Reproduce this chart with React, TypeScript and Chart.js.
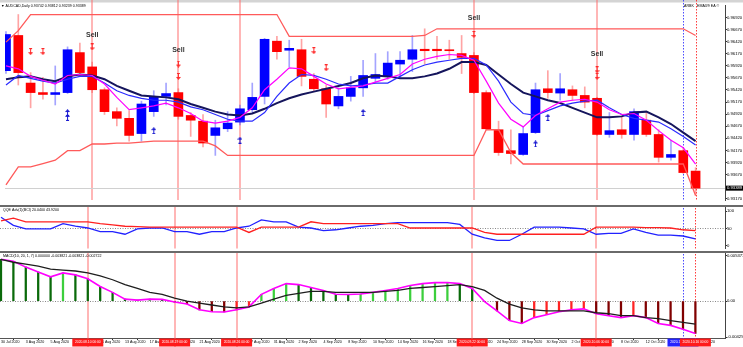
import React, { useEffect, useRef } from "react";
import { Chart, registerables } from "chart.js";

Chart.register(...registerables);

const FONT = "'Liberation Sans', Arial, Helvetica, sans-serif";
const WIDTH = 743;
const PLOT_RIGHT = 725;
const BAR_SPACING = 12.4;
const X_MIN = -0.08;
const X_MAX = X_MIN + PLOT_RIGHT / BAR_SPACING;

const dates = [
  "30 Jul 2020", "31 Jul 2020", "3 Aug 2020", "4 Aug 2020", "5 Aug 2020", "6 Aug 2020", "7 Aug 2020", "10 Aug 2020", "11 Aug 2020", "12 Aug 2020",
  "13 Aug 2020", "14 Aug 2020", "17 Aug 2020", "18 Aug 2020", "19 Aug 2020", "20 Aug 2020", "21 Aug 2020", "24 Aug 2020", "25 Aug 2020", "26 Aug 2020",
  "27 Aug 2020", "28 Aug 2020", "31 Aug 2020", "1 Sep 2020", "2 Sep 2020", "3 Sep 2020", "4 Sep 2020", "7 Sep 2020", "8 Sep 2020", "9 Sep 2020",
  "10 Sep 2020", "11 Sep 2020", "14 Sep 2020", "15 Sep 2020", "16 Sep 2020", "17 Sep 2020", "18 Sep 2020", "21 Sep 2020", "22 Sep 2020", "23 Sep 2020",
  "24 Sep 2020", "25 Sep 2020", "28 Sep 2020", "29 Sep 2020", "30 Sep 2020", "1 Oct 2020", "2 Oct 2020", "5 Oct 2020", "6 Oct 2020", "7 Oct 2020",
  "8 Oct 2020", "9 Oct 2020", "12 Oct 2020", "13 Oct 2020", "14 Oct 2020", "15 Oct 2020", "16 Oct 2020",
];

const open = [
  0.95818, 0.96546, 0.95562, 0.95365, 0.95326, 0.95365, 0.96192, 0.95896, 0.95424, 0.94971,
  0.94833, 0.94518, 0.94971, 0.95286, 0.95365, 0.94892, 0.94774, 0.94479, 0.94617, 0.94755,
  0.95011, 0.95286, 0.96428, 0.96241, 0.96251, 0.95641, 0.95444, 0.95089, 0.95286, 0.95463,
  0.9566, 0.957, 0.95955, 0.96054, 0.96261, 0.96261, 0.96251, 0.96172, 0.96133, 0.95365,
  0.94597, 0.94164, 0.94085, 0.94538, 0.95444, 0.95355, 0.95424, 0.95306, 0.95247, 0.94499,
  0.94597, 0.94499, 0.94794, 0.94499, 0.94026, 0.94164, 0.93742,
];
const high = [
  0.96625, 0.96979, 0.95778, 0.9568, 0.95916, 0.9631, 0.96389, 0.95995, 0.95463, 0.9505,
  0.94991, 0.95188, 0.95404, 0.95562, 0.95444, 0.94952, 0.94912, 0.94794, 0.94971, 0.95109,
  0.95562, 0.96487, 0.96526, 0.96448, 0.96467, 0.95759, 0.95522, 0.95463, 0.957, 0.96034,
  0.96172, 0.96211, 0.96211, 0.96546, 0.96684, 0.96526, 0.96448, 0.96546, 0.96192, 0.95404,
  0.94774, 0.94597, 0.94656, 0.95562, 0.95818, 0.95759, 0.95503, 0.95483, 0.95266, 0.94952,
  0.94853, 0.9503, 0.94952, 0.94597, 0.94381, 0.94223, 0.93812,
];
const low = [
  0.95759, 0.95522, 0.9505, 0.95227, 0.95109, 0.95345, 0.957, 0.95365, 0.94912, 0.94676,
  0.94361, 0.94361, 0.94873, 0.95109, 0.94814, 0.94459, 0.94243, 0.94066, 0.94558, 0.94696,
  0.94952, 0.95129, 0.96054, 0.95896, 0.95503, 0.95404, 0.94853, 0.9503, 0.95188, 0.95286,
  0.95562, 0.95641, 0.9568, 0.95798, 0.95955, 0.96054, 0.96054, 0.95759, 0.95345, 0.94597,
  0.94066, 0.93888, 0.94066, 0.94518, 0.95247, 0.95207, 0.95207, 0.9505, 0.94479, 0.9444,
  0.9442, 0.94381, 0.94459, 0.93928, 0.93967, 0.93692, 0.93239,
];
const close = [
  0.96566, 0.95778, 0.95365, 0.95326, 0.95365, 0.96251, 0.95778, 0.95424, 0.94971, 0.94833,
  0.94479, 0.95129, 0.95286, 0.95345, 0.94873, 0.94794, 0.94322, 0.94637, 0.94735, 0.9503,
  0.95266, 0.96467, 0.96211, 0.9628, 0.957, 0.95444, 0.95129, 0.95286, 0.95463, 0.95719,
  0.95739, 0.95975, 0.96034, 0.96251, 0.96231, 0.96231, 0.96231, 0.96093, 0.95365, 0.94617,
  0.94125, 0.94105, 0.94518, 0.95424, 0.95365, 0.95444, 0.95306, 0.95168, 0.94499, 0.94578,
  0.94499, 0.94971, 0.94499, 0.94026, 0.94085, 0.93711, 0.93389,
];

const emaFast = [
  0.95916, 0.95857, 0.957, 0.95621, 0.95542, 0.95719, 0.95739, 0.95719, 0.95542, 0.95266,
  0.95011, 0.9505, 0.95089, 0.95148, 0.9505, 0.94932, 0.94774, 0.94735, 0.94774, 0.94853,
  0.9505, 0.95424, 0.95641, 0.95877, 0.95857, 0.957, 0.95542, 0.95444, 0.95473, 0.95503,
  0.95581, 0.9566, 0.95739, 0.95955, 0.96054, 0.96113, 0.96152, 0.96133, 0.96034, 0.95601,
  0.95148, 0.94814, 0.94656, 0.94892, 0.9503, 0.95168, 0.95207, 0.95227, 0.95168, 0.95011,
  0.94912, 0.94932, 0.94794, 0.94578, 0.94381, 0.94223, 0.93888,
];
const emaMid = [
  0.95522, 0.95719, 0.9566, 0.95601, 0.95562, 0.95641, 0.957, 0.957, 0.95562, 0.95404,
  0.95306, 0.95247, 0.95207, 0.95207, 0.95168, 0.9507, 0.95011, 0.94912, 0.94814, 0.94774,
  0.94774, 0.94952, 0.95286, 0.95562, 0.95739, 0.95719, 0.95641, 0.95542, 0.95503, 0.95522,
  0.95562, 0.95562, 0.957, 0.95837, 0.95936, 0.95995, 0.96034, 0.96074, 0.96074, 0.95936,
  0.95601, 0.95168, 0.94932, 0.94892, 0.94991, 0.95089, 0.95148, 0.95188, 0.95207, 0.9505,
  0.94912, 0.94833, 0.94794, 0.94755, 0.94617, 0.94459, 0.94282,
];
const emaSlow = [
  0.95641, 0.9568, 0.957, 0.95641, 0.95601, 0.957, 0.95739, 0.95719, 0.95641, 0.95503,
  0.95404, 0.95306, 0.95286, 0.95266, 0.95227, 0.95129, 0.9505, 0.94971, 0.94912, 0.94892,
  0.94932, 0.9503, 0.95148, 0.95247, 0.95326, 0.95385, 0.95444, 0.95503, 0.95562, 0.9566,
  0.95719, 0.957, 0.9566, 0.9566, 0.957, 0.95759, 0.95857, 0.95995, 0.95995, 0.95936,
  0.95739, 0.95542, 0.95365, 0.95286, 0.95207, 0.95148, 0.9505, 0.94952, 0.94853, 0.94853,
  0.94873, 0.94952, 0.94971, 0.94853, 0.94715, 0.94538, 0.94361,
];

const channelUpper = [
  0.96408, 0.96645, 0.96979, 0.96979, 0.96979, 0.96979, 0.96979, 0.96979, 0.96979, 0.96979,
  0.96979, 0.96979, 0.96979, 0.96979, 0.96979, 0.96979, 0.96979, 0.96979, 0.96979, 0.96979,
  0.96979, 0.96979, 0.96979, 0.96526, 0.96526, 0.96526, 0.96526, 0.96526, 0.96526, 0.96526,
  0.96526, 0.96526, 0.96526, 0.96526, 0.96546, 0.96684, 0.96684, 0.96684, 0.96684, 0.96684,
  0.96684, 0.96684, 0.96684, 0.96684, 0.96684, 0.96684, 0.96684, 0.96684, 0.96684, 0.96684,
  0.96684, 0.96684, 0.96684, 0.96684, 0.96684, 0.96684, 0.96546,
];
const channelLower = [
  0.93455, 0.93829, 0.93829, 0.93898, 0.93967, 0.94164, 0.94164, 0.94302, 0.94302, 0.94322,
  0.94322, 0.94341, 0.94361, 0.94361, 0.94361, 0.94361, 0.94361, 0.94262, 0.94066, 0.94066,
  0.94066, 0.94066, 0.94066, 0.94066, 0.94066, 0.94066, 0.94066, 0.94066, 0.94066, 0.94066,
  0.94066, 0.94066, 0.94066, 0.94066, 0.94066, 0.94066, 0.94066, 0.94066, 0.94066, 0.94597,
  0.94597, 0.94125, 0.93888, 0.93888, 0.93888, 0.93888, 0.93888, 0.93888, 0.93888, 0.93888,
  0.93888, 0.93888, 0.93888, 0.93888, 0.93888, 0.93888, 0.93239,
];

const sellArrowBars = [2, 3, 7, 14, 14, 25, 26, 38, 48, 48];
const sellArrowPrices = [0.96211, 0.96211, 0.9631, 0.95955, 0.957, 0.96231, 0.95877, 0.96566, 0.95837, 0.957];
const buyArrowBars = [5, 5, 12, 19, 29, 43, 44];
const buyArrowPrices = [0.94952, 0.94853, 0.94578, 0.94381, 0.94952, 0.94302, 0.94853];
const sellLabelBars = [7, 14, 38, 48];
const sellLabelPrices = [0.96546, 0.96251, 0.969, 0.96152];

const priceTicks = [
  0.9692, 0.9667, 0.9642, 0.9617, 0.9592, 0.9567, 0.9542, 0.9517,
  0.9492, 0.9467, 0.9442, 0.9417, 0.9392, 0.9367, 0.9317,
];

const qqeFast = [
  82.1, 59.0, 48.7, 48.7, 48.7, 64.1, 56.4, 51.3, 41.0, 41.0,
  33.3, 48.7, 51.3, 51.3, 41.0, 41.0, 33.3, 41.0, 41.0, 51.3,
  56.4, 74.4, 69.2, 69.2, 53.8, 51.3, 43.6, 46.2, 51.3, 56.4,
  59.0, 64.1, 66.7, 66.7, 66.7, 66.7, 66.7, 61.5, 33.3, 23.1,
  15.4, 15.4, 33.3, 53.8, 53.8, 53.8, 51.3, 48.7, 33.3, 35.9,
  35.9, 48.7, 38.5, 30.8, 30.8, 28.2, 20.04,
];
const qqeSlow = [
  71.8, 79.5, 69.2, 69.2, 69.2, 69.2, 69.2, 69.2, 64.1, 60.3,
  56.4, 55.1, 53.8, 53.8, 53.8, 53.8, 53.8, 53.8, 53.8, 53.8,
  38.5, 53.8, 53.8, 53.8, 53.8, 69.2, 64.1, 64.1, 64.1, 64.1,
  64.1, 64.1, 64.1, 51.3, 51.3, 51.3, 51.3, 51.3, 51.3, 38.5,
  33.3, 33.3, 33.3, 33.3, 33.3, 33.3, 33.3, 33.3, 53.8, 53.8,
  53.8, 53.8, 52.6, 52.6, 51.3, 46.2, 43.92,
];
const qqeTicks = [100, 50, 0];

const macdMain = [
  0.004927, 0.004698, 0.004011, 0.003438, 0.002865, 0.003323, 0.003094, 0.002636, 0.001719, 0.001031,
  0.000229, 0.000115, 0.000229, 0.0002, -0.000115, -0.000344, -0.001031, -0.00126, -0.00129, -0.001031,
  -0.000688, 0.000802, 0.00149, 0.002063, 0.001948, 0.001604, 0.00126, 0.000802, 0.00078, 0.00083,
  0.001031, 0.00126, 0.00149, 0.001833, 0.002063, 0.002177, 0.0022, 0.002063, 0.00149, -0.00005,
  -0.001146, -0.002292, -0.002636, -0.001948, -0.001604, -0.00126, -0.001031, -0.000917, -0.00149, -0.001719,
  -0.001948, -0.001719, -0.001948, -0.002636, -0.002865, -0.003323, -0.003821,
];
const macdSignal = [
  0.004927, 0.004584, 0.004354, 0.004125, 0.003781, 0.003667, 0.003552, 0.003323, 0.002979, 0.002521,
  0.001948, 0.00149, 0.001031, 0.000802, 0.000344, 0.0, -0.000229, -0.000458, -0.000688, -0.000802,
  -0.000688, -0.000229, 0.000229, 0.000688, 0.000917, 0.001146, 0.001146, 0.001031, 0.001031, 0.001031,
  0.001031, 0.001146, 0.00126, 0.00149, 0.001604, 0.001719, 0.001833, 0.001948, 0.001719, 0.00126,
  0.000344, -0.000344, -0.000802, -0.001031, -0.001146, -0.001146, -0.001146, -0.001146, -0.001375, -0.00149,
  -0.001719, -0.001719, -0.001948, -0.002063, -0.002292, -0.002521, -0.002722,
];
const macdTicks = [0.005373, 0, -0.004259];

const markerBars = [7, 14, 19, 38, 48];
const markerLabels = ["2020.08.10 00:00", "2020.08.19 00:00", "2020.08.26 00:00", "2020.09.22 00:00", "2020.10.06 00:00"];
const cursorBars = [55, 56];
const cursorLabels = ["2020.10.15 00:00", "2020.10.16 00:00"];
const cursorColors = ["#4b4bff", "#ff3b3b"];

const dateTickBars = dates.map((_, i) => i).filter((i) => i % 2 === 0);

const pts = (arr: number[]) => arr.map((y, x) => ({ x, y }));

function makeArrow(color: string, up: boolean) {
  const c = document.createElement("canvas");
  c.width = 5;
  c.height = 7;
  const g = c.getContext("2d")!;
  g.fillStyle = color;
  if (up) {
    g.beginPath();
    g.moveTo(2.5, 0);
    g.lineTo(5, 3);
    g.lineTo(0, 3);
    g.closePath();
    g.fill();
    g.fillRect(2, 2, 1, 5);
    g.fillRect(1, 6, 3, 1);
  } else {
    g.fillRect(1, 0, 3, 1);
    g.fillRect(2, 0, 1, 5);
    g.beginPath();
    g.moveTo(0, 4);
    g.lineTo(5, 4);
    g.lineTo(2.5, 7);
    g.closePath();
    g.fill();
  }
  return c;
}

function xScale(show: boolean): any {
  return {
    type: "linear",
    min: X_MIN,
    max: X_MAX,
    offset: false,
    display: show,
    grid: { display: show, drawOnChartArea: false, tickLength: 2, color: "#333" },
    border: { display: true, color: "#555", width: 1 },
    afterBuildTicks: (s: any) => {
      s.ticks = dateTickBars.map((v) => ({ value: v }));
    },
    afterFit: (s: any) => {
      if (show) s.height = 9;
    },
    ticks: {
      autoSkip: false,
      maxRotation: 0,
      minRotation: 0,
      align: "start",
      padding: 0,
      font: { size: 3.6, family: FONT },
      color: "#000",
      callback: (v: any) => dates[Math.round(v)] ?? "",
    },
  };
}

function yScale(min: number, max: number, ticks: number[], fmt: (v: number) => string): any {
  return {
    type: "linear",
    position: "right",
    min,
    max,
    grid: { drawOnChartArea: false, tickLength: 2, color: "#333" },
    border: { display: true, color: "#444", width: 1 },
    afterBuildTicks: (s: any) => {
      s.ticks = ticks.map((v) => ({ value: v }));
    },
    afterFit: (s: any) => {
      s.width = WIDTH - PLOT_RIGHT;
    },
    ticks: {
      autoSkip: false,
      padding: 0,
      font: { size: 4.2, family: FONT },
      color: "#000",
      callback: (v: any) => fmt(Number(v)),
    },
  };
}

function drawVLines(chart: any, top: number, bottom: number) {
  const ctx = chart.ctx;
  const xs = chart.scales.x;
  ctx.save();
  ctx.strokeStyle = "rgba(255,110,110,0.5)";
  ctx.lineWidth = 2;
  markerBars.forEach((b) => {
    const x = Math.round(xs.getPixelForValue(b));
    ctx.beginPath();
    ctx.moveTo(x, top);
    ctx.lineTo(x, bottom);
    ctx.stroke();
  });
  ctx.lineWidth = 1;
  ctx.setLineDash([1.5, 1.5]);
  cursorBars.forEach((b, i) => {
    const x = Math.round(xs.getPixelForValue(b)) + 0.5;
    ctx.strokeStyle = cursorColors[i];
    ctx.beginPath();
    ctx.moveTo(x, top);
    ctx.lineTo(x, bottom);
    ctx.stroke();
  });
  ctx.restore();
}

function panelTop(chart: any, label: string) {
  const ctx = chart.ctx;
  ctx.save();
  ctx.fillStyle = "#fff";
  ctx.fillRect(0, 0, chart.width, chart.height);
  ctx.restore();
}

function panelDeco(chart: any, label: string, level: number, yId: string) {
  const ctx = chart.ctx;
  const ys = chart.scales[yId];
  const area = chart.chartArea;
  ctx.save();
  ctx.strokeStyle = "#888";
  ctx.lineWidth = 1;
  ctx.setLineDash([1, 1.5]);
  const y = Math.round(ys.getPixelForValue(level)) + 0.5;
  ctx.beginPath();
  ctx.moveTo(area.left, y);
  ctx.lineTo(area.right, y);
  ctx.stroke();
  ctx.setLineDash([]);
  ctx.fillStyle = "#6a6a6a";
  ctx.fillRect(0, 0, PLOT_RIGHT + 18, 2);
  ctx.fillStyle = "#000";
  ctx.font = `3.6px ${FONT}`;
  ctx.textBaseline = "middle";
  ctx.textAlign = "left";
  ctx.fillText(label, 3, 4.5);
  ctx.restore();
}

export default function App() {
  const mainRef = useRef<HTMLCanvasElement>(null);
  const qqeRef = useRef<HTMLCanvasElement>(null);
  const macdRef = useRef<HTMLCanvasElement>(null);

  useEffect(() => {
    Chart.defaults.font.family = FONT;
    const sellImg = makeArrow("#ff2a2a", false);
    const buyImg = makeArrow("#1a1ad0", true);
    const bull = close.map((c, i) => c >= open[i]);
    const n = close.length;
    const lastClose = close[n - 1];

    const common: any = {
      responsive: false,
      animation: false,
      devicePixelRatio: 1,
      events: [],
      layout: { padding: 0 },
      plugins: { legend: { display: false }, tooltip: { enabled: false } },
    };

    const mainPlugin = {
      id: "mainDeco",
      beforeDraw(chart: any) {
        const ctx = chart.ctx;
        ctx.save();
        ctx.fillStyle = "#fff";
        ctx.fillRect(0, 0, chart.width, chart.height);
        ctx.fillStyle = "#d4d4d4";
        ctx.fillRect(0, 0, chart.width, 2.5);
        ctx.restore();
      },
      beforeDatasetsDraw(chart: any) {
        const ctx = chart.ctx;
        const area = chart.chartArea;
        drawVLines(chart, 0, area.bottom);
        const y = Math.round(chart.scales.y.getPixelForValue(lastClose)) + 0.5;
        ctx.save();
        ctx.strokeStyle = "#d0d0d0";
        ctx.lineWidth = 1;
        ctx.beginPath();
        ctx.moveTo(area.left, y);
        ctx.lineTo(area.right, y);
        ctx.stroke();
        ctx.restore();
      },
      afterDatasetsDraw(chart: any) {
        const ctx = chart.ctx;
        const xs = chart.scales.x;
        const ys = chart.scales.y;
        ctx.save();
        ctx.fillStyle = "#333";
        ctx.font = `bold 7px ${FONT}`;
        ctx.textAlign = "center";
        ctx.textBaseline = "middle";
        sellLabelBars.forEach((b, i) => {
          ctx.fillText("Sell", xs.getPixelForValue(b), ys.getPixelForValue(sellLabelPrices[i]));
        });
        ctx.font = `3.6px ${FONT}`;
        ctx.textAlign = "left";
        ctx.fillStyle = "#000";
        ctx.fillText(
          `\u25BC AUDCAD,Daily ${open[n - 1].toFixed(5)} ${high[n - 1].toFixed(5)} ${low[n - 1].toFixed(5)} ${lastClose.toFixed(5)}`,
          1,
          5.5
        );
        ctx.fillText("ARBK", 684, 5.5);
        ctx.fillText("EMA3/9 EA \u00A9", 697, 5.5);
        const py = ys.getPixelForValue(lastClose);
        ctx.fillStyle = "#000";
        ctx.fillRect(PLOT_RIGHT + 1, py - 2.5, 17, 5);
        ctx.fillStyle = "#fff";
        ctx.font = `4.2px ${FONT}`;
        ctx.fillText(lastClose.toFixed(5), PLOT_RIGHT + 2, py);
        ctx.restore();
      },
    };

    const main = new Chart(mainRef.current!, {
      type: "bar",
      data: {
        datasets: [
          {
            type: "bar",
            data: low.map((l, i) => ({ x: i, y: [l, high[i]] })) as any,
            backgroundColor: bull.map((b) => (b ? "rgba(90,90,255,0.55)" : "rgba(255,90,90,0.55)")),
            barThickness: 1,
            grouped: false,
            order: 9,
          } as any,
          {
            type: "bar",
            data: open.map((o, i) => ({ x: i, y: [Math.min(o, close[i]), Math.max(o, close[i])] })) as any,
            backgroundColor: bull.map((b) => (b ? "#0000ff" : "#ff0000")),
            barThickness: 9,
            grouped: false,
            order: 8,
          } as any,
          { type: "line", data: pts(channelUpper), borderColor: "#ff5a5a", borderWidth: 1.3, pointRadius: 0, order: 7 } as any,
          { type: "line", data: pts(channelLower), borderColor: "#ff5a5a", borderWidth: 1.3, pointRadius: 0, order: 7 } as any,
          { type: "line", data: pts(emaSlow), borderColor: "#15155c", borderWidth: 2, pointRadius: 0, order: 6 } as any,
          { type: "line", data: pts(emaMid), borderColor: "#2b2bff", borderWidth: 1.2, pointRadius: 0, order: 5 } as any,
          { type: "line", data: pts(emaFast), borderColor: "#ff00ff", borderWidth: 1.2, pointRadius: 0, order: 4 } as any,
          {
            type: "line",
            data: sellArrowBars.map((b, i) => ({ x: b, y: sellArrowPrices[i] })),
            showLine: false,
            pointStyle: sellImg,
            pointRadius: 3,
            order: 1,
          } as any,
          {
            type: "line",
            data: buyArrowBars.map((b, i) => ({ x: b, y: buyArrowPrices[i] })),
            showLine: false,
            pointStyle: buyImg,
            pointRadius: 3,
            order: 1,
          } as any,
        ],
      },
      options: {
        ...common,
        scales: {
          x: xScale(false),
          y: yScale(0.93144, 0.97176, priceTicks, (v) => v.toFixed(5)),
        },
      },
      plugins: [mainPlugin],
    });

    const qqePlugin = {
      id: "qqeDeco",
      beforeDraw(chart: any) {
        panelTop(chart, "");
      },
      beforeDatasetsDraw(chart: any) {
        drawVLines(chart, 0, chart.chartArea.bottom);
        panelDeco(chart, `QQE Adv(1)(BCI) ${qqeFast[qqeFast.length - 1].toFixed(4)} ${qqeSlow[qqeSlow.length - 1].toFixed(4)}`, 50, "y");
      },
    };

    const qqe = new Chart(qqeRef.current!, {
      type: "line",
      data: {
        datasets: [
          { data: pts(qqeSlow), borderColor: "#ff2020", borderWidth: 1.3, pointRadius: 0 } as any,
          { data: pts(qqeFast), borderColor: "#2222ff", borderWidth: 1.3, pointRadius: 0 } as any,
        ],
      },
      options: {
        ...common,
        scales: {
          x: xScale(false),
          y: yScale(-7.7, 110.3, qqeTicks, (v) => String(v)),
        },
      },
      plugins: [qqePlugin],
    });

    const histColors = macdMain.map((v, i) => {
      const prev = i > 0 ? macdMain[i - 1] : v + (v >= 0 ? 1 : -1);
      if (v >= 0) return v > prev ? "#3ccf3c" : "#0a6a0a";
      return v > prev ? "#ff2424" : "#800000";
    });

    const macdPlugin = {
      id: "macdDeco",
      beforeDraw(chart: any) {
        panelTop(chart, "");
      },
      beforeDatasetsDraw(chart: any) {
        drawVLines(chart, 0, chart.height);
        panelDeco(
          chart,
          `MACD(10, 20, 1, 7) 0.000000 ${macdMain[n - 1].toFixed(6)} ${macdMain[n - 1].toFixed(6)} ${macdSignal[n - 1].toFixed(6)}`,
          0,
          "y"
        );
      },
      afterDraw(chart: any) {
        const ctx = chart.ctx;
        const xs = chart.scales.x;
        const top = chart.chartArea.bottom + 0.5;
        ctx.save();
        ctx.font = `3.3px ${FONT}`;
        ctx.textAlign = "center";
        ctx.textBaseline = "middle";
        const boxes = [
          ...markerBars.map((b, i) => ({ b, t: markerLabels[i], c: "#ff1a1a" })),
          ...cursorBars.map((b, i) => ({ b, t: cursorLabels[i], c: i === 0 ? "#2424ff" : "#ff1a1a" })),
        ];
        boxes.forEach(({ b, t, c }) => {
          const x = xs.getPixelForValue(b);
          ctx.fillStyle = c;
          ctx.fillRect(x - 15.5, top, 31, 8);
          ctx.fillStyle = "#fff";
          ctx.fillText(t, x, top + 4);
        });
        ctx.restore();
      },
    };

    const macd = new Chart(macdRef.current!, {
      type: "bar",
      data: {
        datasets: [
          {
            type: "line",
            data: pts(macdSignal),
            borderColor: "#1e1e1e",
            borderWidth: 1.3,
            pointRadius: 0,
            order: 1,
          } as any,
          {
            type: "line",
            data: pts(macdMain),
            borderColor: "#ff00ff",
            borderWidth: 1.6,
            pointRadius: 0,
            order: 2,
          } as any,
          {
            type: "bar",
            data: pts(macdMain) as any,
            backgroundColor: histColors,
            barThickness: 1.6,
            grouped: false,
            order: 3,
          } as any,
        ],
      },
      options: {
        ...common,
        scales: {
          x: xScale(true),
          y: yScale(-0.004354, 0.005615, macdTicks, (v) => (v === 0 ? "0.00" : v.toFixed(6))),
        },
      },
      plugins: [macdPlugin],
    });

    return () => {
      main.destroy();
      qqe.destroy();
      macd.destroy();
    };
  }, []);

  const cs = (top: number, h: number): React.CSSProperties => ({
    position: "absolute",
    left: 0,
    top,
    width: WIDTH,
    height: h,
    display: "block",
  });

  return (
    <div style={{ position: "fixed", left: 0, top: 0, width: WIDTH, height: 347, background: "#fff", overflow: "hidden" }}>
      <canvas ref={mainRef} width={WIDTH} height={205} style={cs(0, 205)} />
      <canvas ref={qqeRef} width={WIDTH} height={46} style={cs(205, 46)} />
      <canvas ref={macdRef} width={WIDTH} height={96} style={cs(251, 96)} />
    </div>
  );
}
